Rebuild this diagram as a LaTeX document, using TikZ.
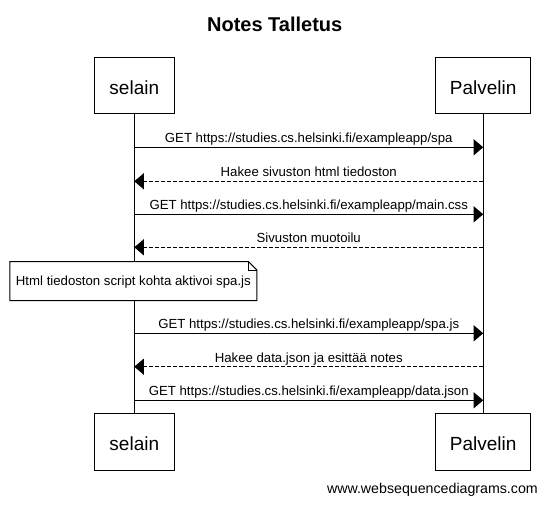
\documentclass[tikz,border=0pt]{standalone}
\usepackage{fontspec}
\setmainfont{Liberation Sans}
\usetikzlibrary{arrows.meta}
\begin{document}
\begin{tikzpicture}[x=1pt,y=-1pt,
  actor/.style={draw=black,line width=1pt,fill=white,inner sep=0pt,
    text height=17pt,text depth=0pt,minimum height=56.7pt,
    font=\fontsize{19}{22}\selectfont},
  life/.style={draw=black,line width=1pt},
  msg/.style={draw=black,line width=1pt,-{Triangle[length=9.5pt,width=16pt]}},
  ret/.style={msg,dash pattern=on 4pt off 2pt},
  lbl/.style={anchor=base,inner sep=0pt,font=\fontsize{13.2}{15}\selectfont},
  notebox/.style={fill=white,draw=none,inner sep=0pt,minimum width=246.7pt,
    minimum height=38.6pt,text height=9.5pt,text depth=0pt,
    font=\fontsize{13.2}{15}\selectfont}
]
\useasboundingbox[fill=white] (0,0) rectangle (546,505);

\node[font=\fontsize{20}{24}\selectfont\bfseries,anchor=base,inner sep=0pt]
  (title) at (274.7,31.7) {Notes Talletus};

\node[actor,minimum width=80pt] (s1) at (134.3,85.65) {selain};
\node[actor,minimum width=95.5pt] (p1) at (483.2,85.65) {Palvelin};
\node[actor,minimum width=80pt] (s2) at (134.3,441.65) {selain};
\node[actor,minimum width=95.5pt] (p2) at (483.2,441.65) {Palvelin};

\draw[life] (s1.south) -- (s2.north);
\draw[life] (p1.south) -- (p2.north);

% message endpoints on lifelines
\foreach \i/\y in {1/147.3,2/181.3,3/214.3,4/247.3,5/333.3,6/366.7,7/400.3}{
  \coordinate (sa\i) at (134.3,\y);
  \coordinate (pa\i) at (483.2,\y);
  \coordinate (la\i) at (308.75,\y-4.6);
}

\draw[msg] (sa1) -- (pa1);
\node[lbl] (l1) at (la1) {GET https://studies.cs.helsinki.fi/exampleapp/spa};
\draw[ret] (pa2) -- (sa2);
\node[lbl] (l2) at (la2) {Hakee sivuston html tiedoston};
\draw[msg] (sa3) -- (pa3);
\node[lbl] (l3) at (la3) {GET https://studies.cs.helsinki.fi/exampleapp/main.css};
\draw[ret] (pa4) -- (sa4);
\node[lbl] (l4) at (la4) {Sivuston muotoilu};

\node[notebox] (n) at (133.35,281) {Html tiedoston script kohta aktivoi spa.js};
\draw[line width=1pt] (n.north west) -- ([xshift=-8.5pt]n.north east)
  -- ([yshift=-8.5pt]n.north east) -- (n.south east) -- (n.south west) -- cycle;
\draw[line width=0.6pt] ([xshift=-8.5pt]n.north east) -- ([xshift=-8.5pt,yshift=-8.5pt]n.north east)
  -- ([yshift=-8.5pt]n.north east);

\draw[msg] (sa5) -- (pa5);
\node[lbl] (l5) at (la5) {GET https://studies.cs.helsinki.fi/exampleapp/spa.js};
\draw[ret] (pa6) -- (sa6);
\node[lbl] (l6) at (la6) {Hakee data.json ja esittää notes};
\draw[msg] (sa7) -- (pa7);
\node[lbl] (l7) at (la7) {GET https://studies.cs.helsinki.fi/exampleapp/data.json};

\node[anchor=base east,inner sep=0pt,font=\fontsize{14.2}{17}\selectfont]
  (wm) at (538,493) {www.websequencediagrams.com};
\end{tikzpicture}
\end{document}
